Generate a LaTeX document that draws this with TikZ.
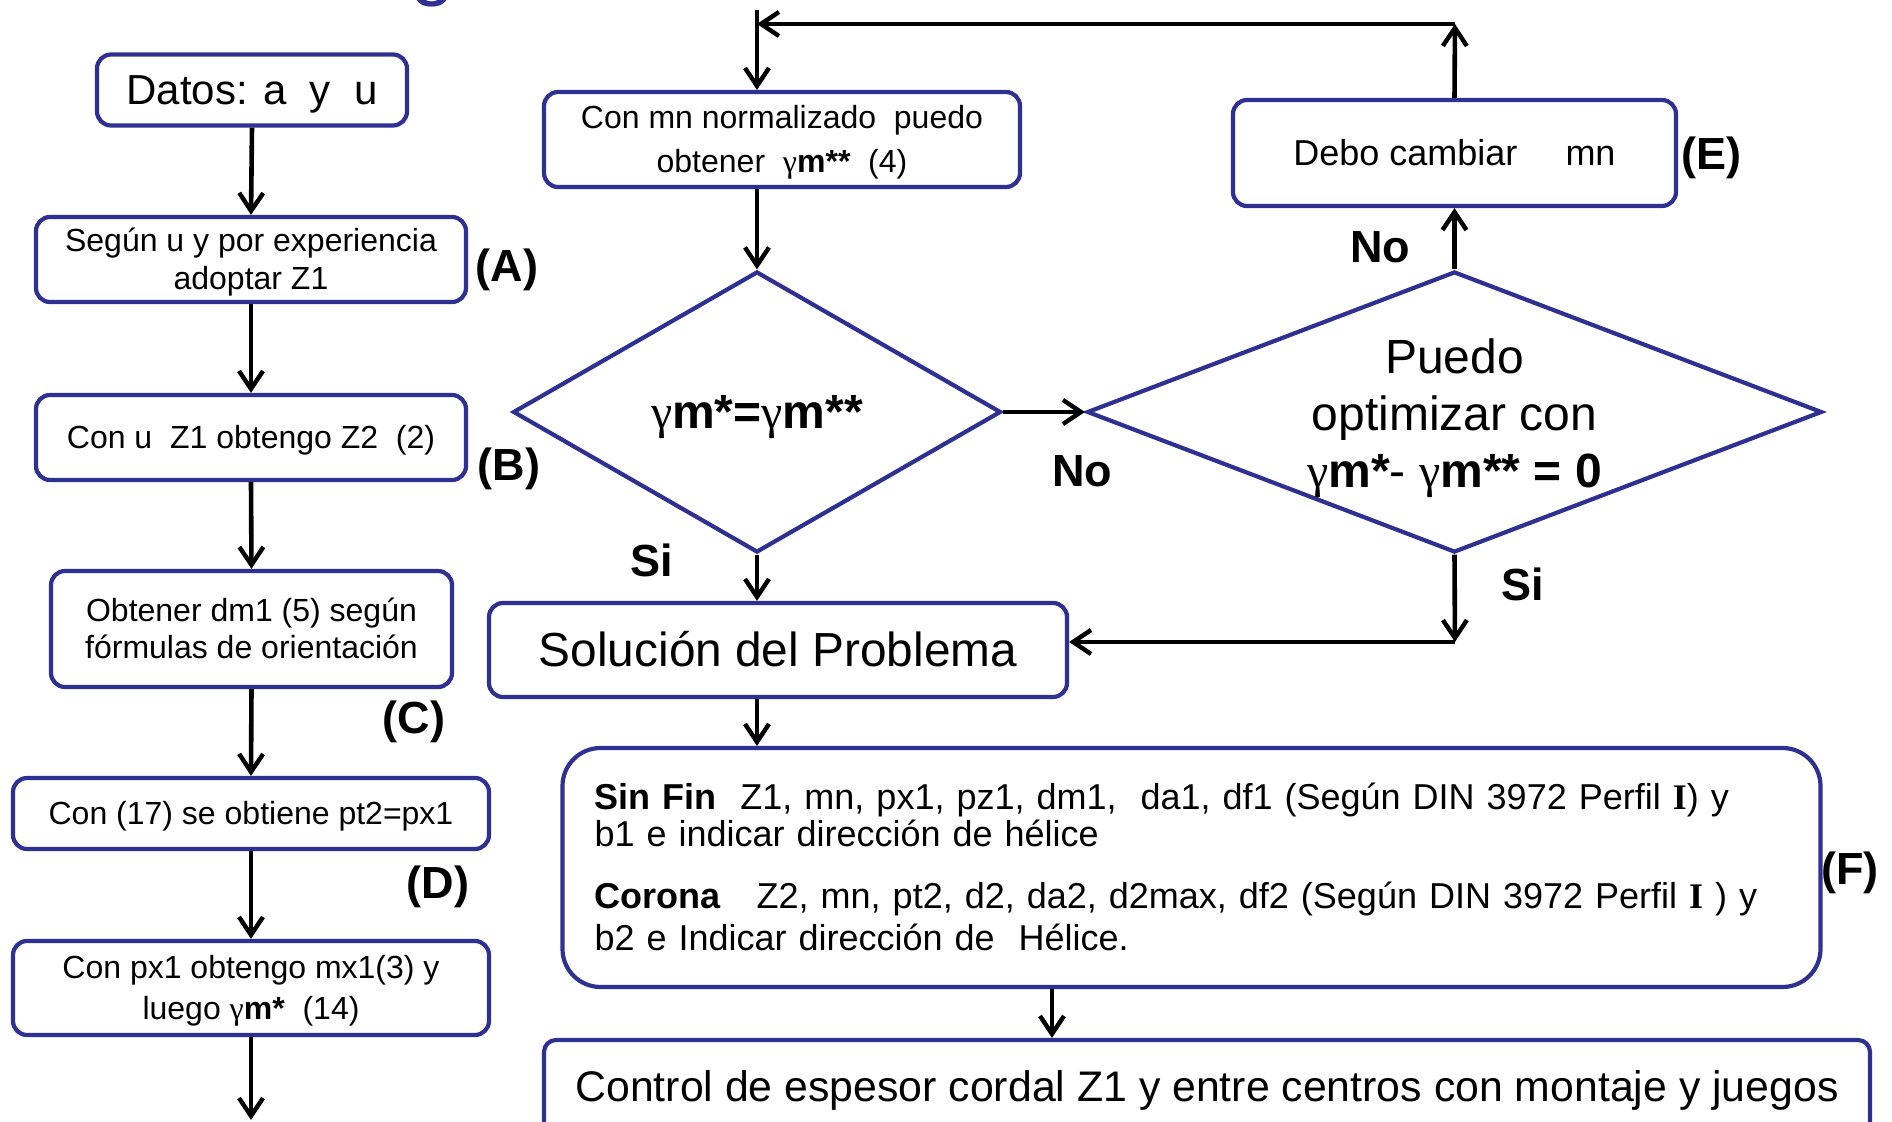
\documentclass[tikz,border=0pt]{standalone}
\usepackage{fontspec}
\setmainfont{Liberation Sans}
\newfontfamily\serifa{Liberation Serif}
\usetikzlibrary{arrows.meta, positioning, shapes.geometric}
\definecolor{BordeAzul}{HTML}{2E3192}
\newcommand{\gm}{{\serifa γ}}
\newcommand{\perfilI}{{\serifa\bfseries I}}
\newcommand{\pps}{\rule[-0.212em]{0pt}{1.117em}}

\begin{document}
\begin{tikzpicture}[x=0.5pt, y=-0.5pt,
    caja/.style={draw=BordeAzul, line width=2.1pt, rounded corners=7pt, align=center, inner sep=0pt,
      font=\fontsize{16}{18.7}\selectfont, execute at begin node=\pps, execute at end node=\pps},
    rombo/.style={draw=BordeAzul, line width=2.1pt, shape=diamond, inner sep=0pt},
    flecha/.style={-{Straight Barb[length=9pt, width=12pt, line width=2.2pt]}, line width=2.3pt},
    etq/.style={font=\bfseries\fontsize{22.5}{24}\selectfont},
    txtrombo/.style={align=center, font=\fontsize{24}{28.5}\selectfont},
  ]
  \useasboundingbox (0,0) rectangle (1892,1122);
  % ---- resto del titulo (cortado) ----
  \node[text=BordeAzul, font=\fontsize{40}{40}\selectfont, anchor=base] (titulo) at (433,-9) {g};
  % ---- columna izquierda ----
  \node[caja, minimum width=155pt, minimum height=35.5pt, font=\fontsize{21}{24}\selectfont] (datos) at (252,90) {Datos: a \ y \ u};
  \node[caja, minimum width=215pt, minimum height=42.5pt] (adoptar) at (251,259.5) {\pps Según u y por experiencia\\adoptar Z1\pps};
  \node[caja, minimum width=215pt, minimum height=42.5pt] (obtZ2) at (251,437.5) {Con u \ Z1 obtengo Z2 \ (2)};
  \node[caja, minimum width=200.5pt, minimum height=58pt] (obtdm) at (251.5,629) {\pps Obtener dm1 (5) según\\fórmulas de orientación\pps};
  \node[caja, minimum width=238pt, minimum height=35.5pt] (obtpt) at (251,813.5) {Con (17) se obtiene pt2=px1};
  \node[caja, minimum width=238pt, minimum height=47pt, font=\fontsize{16}{20.5}\selectfont] (obtgm) at (251,988) {\pps Con px1 obtengo mx1(3) y\\luego \gm\textbf{m*} \ (14)\pps};
  \coordinate (finizq) at (251,1120);
  \foreach \a/\b in {datos/adoptar, adoptar/obtZ2, obtZ2/obtdm, obtdm/obtpt, obtpt/obtgm, obtgm/finizq}
    \draw[flecha] (\a.south) -- (\b.north);
  \node[etq] (lA) at (507,270) {(A)};
  \node[etq] (lB) at (509,469) {(B)};
  \node[etq] (lC) at (414,722) {(C)};
  \node[etq] (lD) at (438,887) {(D)};
  % ---- bucle de mn ----
  \node[caja, minimum width=238pt, minimum height=47.5pt, font=\fontsize{16}{21.7}\selectfont] (norm) at (782,139.5) {\pps Con mn normalizado \ puedo\\obtener \ \gm\textbf{m**} \ (4)\pps};
  \node[rombo, minimum width=244pt, minimum height=140.5pt] (igual) at (757,412) {};
  \node[txtrombo] (tigual) at (igual) {\pps\gm\textbf{m*=}\gm\textbf{m**}\pps};
  \node[rombo, minimum width=367.5pt, minimum height=140.5pt] (optim) at (1454.5,412) {};
  \node[txtrombo] (toptim) at (1454.5,414) {\pps Puedo\\optimizar con\\\gm\textbf{m*}- \gm\textbf{m** = 0}\pps};
  \node[caja, minimum width=221.5pt, minimum height=53pt, font=\fontsize{18}{20}\selectfont] (cambiar) at (1454.5,153) {Debo cambiar\hspace*{19pt} mn};
  \node[etq] (lE) at (1711,158) {(E)};
  \coordinate (entra) at (757,10);
  \coordinate (esqsup) at (1455,24);
  \draw[flecha] (entra) -- (entra |- norm.north);
  \draw[flecha] (igual.north |- norm.south) -- (igual.north);
  \draw[flecha] (igual.east) -- (optim.west);
  \draw[flecha] (optim.north) -- (cambiar.south);
  \draw[flecha] (cambiar.north) -- (esqsup);
  \draw[flecha] (esqsup) -- (entra |- esqsup);
  \node[etq] (no1) at (1082,471) {No};
  \node[etq] (no2) at (1380,247) {No};
  \node[etq] (si1) at (652,560) {Si};
  \node[etq] (si2) at (1523,584) {Si};
  % ---- solucion ----
  \node[caja, minimum width=289pt, minimum height=47pt, font=\fontsize{23.9}{26}\selectfont] (sol) at (778,650) {Solución del Problema};
  \coordinate (esqinf) at (1455,642);
  \draw[flecha] (igual.south) -- (igual.south |- sol.north);
  \draw[flecha] (optim.south) -- (esqinf);
  \draw[flecha] (esqinf) -- (esqinf -| sol.east);
  \node[caja, rounded corners=19pt, minimum width=628.5pt, minimum height=119.5pt, inner xsep=16pt, text width=597pt, align=left, font=\fontsize{18}{18.5}\selectfont] (datosF) at (1191.5,867.5) {\textbf{Sin Fin} \ Z1, mn, px1, pz1, dm1, \ da1, df1 (Según DIN 3972 Perfil \perfilI) y\\b1 e indicar dirección de hélice\\[12.5pt]\textbf{Corona} \ \ Z2, mn, pt2, d2, da2, d2max, df2 (Según DIN 3972 Perfil \perfilI\ ) y\\b2 e Indicar dirección de \ Hélice.};
  \node[etq] (lF) at (1850,873) {(F)};
  \node[caja, rounded corners=6pt, minimum width=663pt, minimum height=47pt, font=\fontsize{21.4}{24}\selectfont] (control) at (1207,1087) {Control de espesor cordal Z1 y entre centros con montaje y juegos};
  \coordinate (bajaF) at (1052,0);
  \draw[flecha] (sol.south -| entra) -- (datosF.north -| entra);
  \draw[flecha] (datosF.south -| bajaF) -- (control.north -| bajaF);
\end{tikzpicture}
\end{document}
